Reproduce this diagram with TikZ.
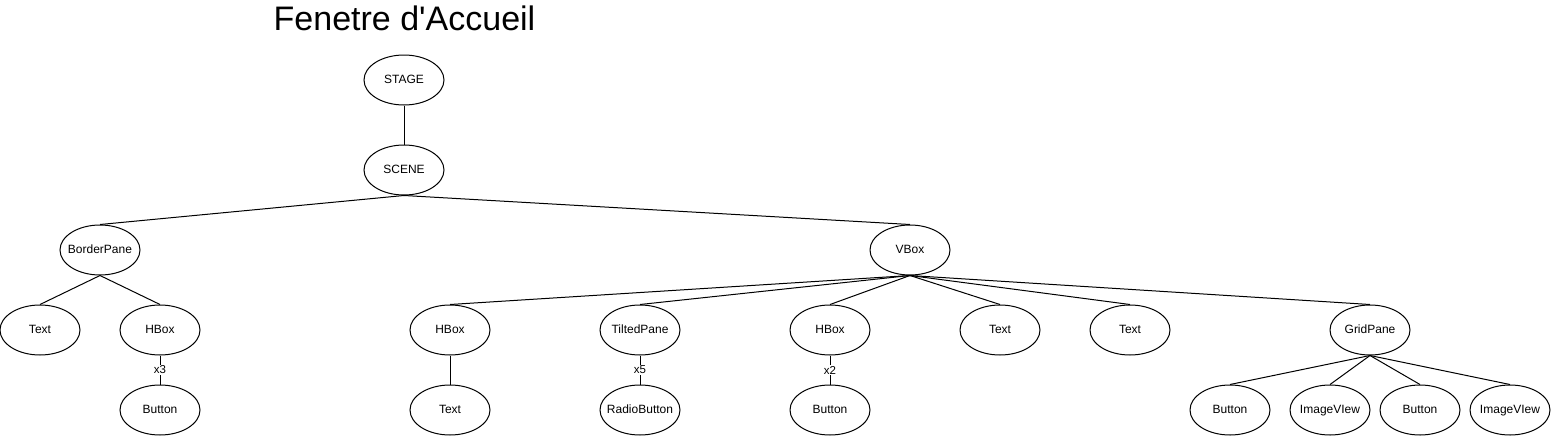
\documentclass[tikz,border=0pt]{standalone}
\usepackage{fontspec}
\setmainfont{Liberation Sans}
\newfontfamily\titlefont[Ligatures=TeXOff]{Liberation Sans}
\usetikzlibrary{shapes.geometric}
\tikzset{
  nd/.style={draw=black, line width=1pt, ellipse, minimum width=80pt, minimum height=50pt, inner xsep=-14pt, inner ysep=0pt, text height=8.6pt, text depth=2.4pt, font=\fontsize{12}{14}\selectfont},
  ln/.style={draw=black, line width=1pt},
  lbl/.style={fill=white, inner sep=1pt, font=\fontsize{11.5}{13}\selectfont}
}
\begin{document}
\begin{tikzpicture}[x=1pt,y=-1pt]
\useasboundingbox (0,0) rectangle (1551,437);
\node[font=\titlefont\fontsize{34}{38}\selectfont] (title) at (404.5,18) {Fenetre d'Accueil};
\node[nd] (stage) at (404,80) {STAGE};
\node[nd] (scene) at (404,170) {SCENE};
\node[nd] (bp) at (100,250) {BorderPane};
\node[nd] (vbox) at (910,250) {VBox};
\node[nd] (t1) at (40,330) {Text};
\node[nd] (hb1) at (160,330) {HBox};
\node[nd] (hb2) at (450,330) {HBox};
\node[nd] (tp) at (640,330) {TiltedPane};
\node[nd] (hb3) at (830,330) {HBox};
\node[nd] (t2) at (1000,330) {Text};
\node[nd] (t3) at (1130,330) {Text};
\node[nd] (gp) at (1370,330) {GridPane};
\node[nd] (b1) at (160,410) {Button};
\node[nd] (t4) at (450,410) {Text};
\node[nd] (rb) at (640,410) {RadioButton};
\node[nd] (b2) at (830,410) {Button};
\node[nd] (b3) at (1230,410) {Button};
\node[nd] (iv1) at (1330,410) {ImageVIew};
\node[nd] (b4) at (1420,410) {Button};
\node[nd] (iv2) at (1510,410) {ImageVIew};
\draw[ln] (stage.south) -- (scene.north);
\draw[ln] (scene.south) -- (bp.north);
\draw[ln] (scene.south) -- (vbox.north);
\draw[ln] (bp.south) -- (t1.north);
\draw[ln] (bp.south) -- (hb1.north);
\draw[ln] (hb1.south) -- node[lbl] {x3} (b1.north);
\draw[ln] (vbox.south) -- (hb2.north);
\draw[ln] (vbox.south) -- (tp.north);
\draw[ln] (vbox.south) -- (hb3.north);
\draw[ln] (vbox.south) -- (t2.north);
\draw[ln] (vbox.south) -- (t3.north);
\draw[ln] (vbox.south) -- (gp.north);
\draw[ln] (hb2.south) -- (t4.north);
\draw[ln] (tp.south) -- node[lbl] {x5} (rb.north);
\draw[ln] (hb3.south) -- node[lbl] {x2} (b2.north);
\draw[ln] (gp.south) -- (b3.north);
\draw[ln] (gp.south) -- (iv1.north);
\draw[ln] (gp.south) -- (b4.north);
\draw[ln] (gp.south) -- (iv2.north);
\end{tikzpicture}
\end{document}
